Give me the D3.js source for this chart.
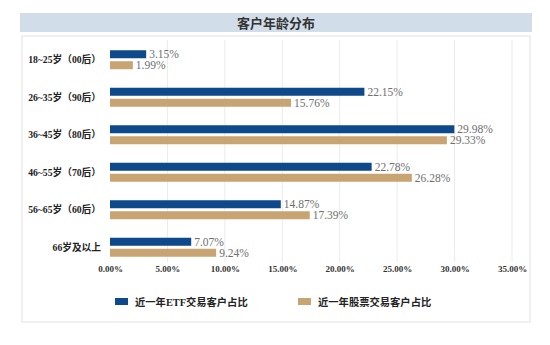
<!DOCTYPE html>
<html><head><meta charset="utf-8">
<script src="https://cdn.jsdelivr.net/npm/d3@7"></script>
<style>
html,body{margin:0;padding:0;background:#ffffff;}
svg{display:block;}
</style></head>
<body>
<svg id="chart" width="550" height="345"></svg>
<script>
const title = "客户年龄分布";
const categories = ["18~25岁（00后）","26~35岁（90后）","36~45岁（80后）","46~55岁（70后）","56~65岁（60后）","66岁及以上"];
const seriesNames = ["近一年ETF交易客户占比","近一年股票交易客户占比"];
const etfValues = [3.15, 22.15, 29.98, 22.78, 14.87, 7.07];
const stockValues = [1.99, 15.76, 29.33, 26.28, 17.39, 9.24];
const tickValues = [0, 5, 10, 15, 20, 25, 30, 35];
const colors = ["#0e4a8b", "#c9a473"];

const svg = d3.select("#chart");
const serif = "'Liberation Serif','DejaVu Serif','Noto Sans CJK SC',serif";
const cjk = "'Liberation Serif','Noto Sans CJK SC',serif";

// panel
svg.append("rect").attr("x",22).attr("y",36).attr("width",508).attr("height",286)
  .attr("fill","#ffffff").attr("stroke","#f0f0f0").attr("stroke-width",2);
// title band
svg.append("rect").attr("x",20).attr("y",13).attr("width",512).attr("height",19).attr("fill","#d1dde9");
svg.append("text").attr("x",276).attr("y",27.5).attr("text-anchor","middle")
  .attr("font-family",cjk).attr("font-weight","bold").attr("font-size",13).attr("fill","#333")
  .text(title);

const x = d3.scaleLinear().domain([0,35]).range([110,512]);
const y = d3.scaleBand().domain(categories).range([41,266]).paddingInner(0).paddingOuter(0);
const barH = 8, gap = 3;

// grid
svg.append("g").selectAll("line").data(tickValues.slice(1)).join("line")
  .attr("x1",d=>x(d)).attr("x2",d=>x(d)).attr("y1",40).attr("y2",262)
  .attr("stroke","#ebebeb").attr("stroke-width",1);

// axis labels
const axis = d3.axisBottom(x).tickValues(tickValues).tickFormat(d=>d3.format(".2f")(d)+"%").tickSize(0).tickPadding(0);
const ag = svg.append("g").attr("transform","translate(0,266)").call(axis);
ag.select(".domain").remove();
ag.selectAll("text").attr("font-family",serif).attr("font-weight","bold").attr("font-size",9).attr("fill","#333").attr("dy","0.71em");

// category labels
svg.append("g").selectAll("text").data(categories).join("text")
  .attr("x",101).attr("y",d=>y(d)+y.bandwidth()/2).attr("dy","0.35em").attr("text-anchor","end")
  .attr("font-family",cjk).attr("font-weight","bold").attr("font-size",9.7).attr("fill","#222")
  .text(d=>d);

const series = [etfValues, stockValues];
series.forEach((vals, si) => {
  const g = svg.append("g");
  const yOff = si===0 ? -(barH+gap/2) : gap/2;
  g.selectAll("rect").data(vals).join("rect")
    .attr("x",x(0)).attr("y",(d,i)=>y(categories[i])+y.bandwidth()/2+yOff)
    .attr("width",d=>x(d)-x(0)).attr("height",barH).attr("fill",colors[si]);
  g.selectAll("text").data(vals).join("text")
    .attr("x",d=>x(d)+3).attr("y",(d,i)=>y(categories[i])+y.bandwidth()/2+yOff+barH/2).attr("dy","0.35em")
    .attr("font-family",serif).attr("font-size",11.5).attr("fill","#6e6e6e")
    .text(d=>d.toFixed(2)+"%");
});

// legend
const legX = [115, 298];
seriesNames.forEach((n,i)=>{
  svg.append("rect").attr("x",legX[i]).attr("y",298).attr("width",13).attr("height",7).attr("fill",colors[i]);
  svg.append("text").attr("x",legX[i]+20).attr("y",302).attr("dy","0.35em")
    .attr("font-family",cjk).attr("font-weight","bold").attr("font-size",10.3).attr("fill","#222").text(n);
});
</script>
</body></html>
